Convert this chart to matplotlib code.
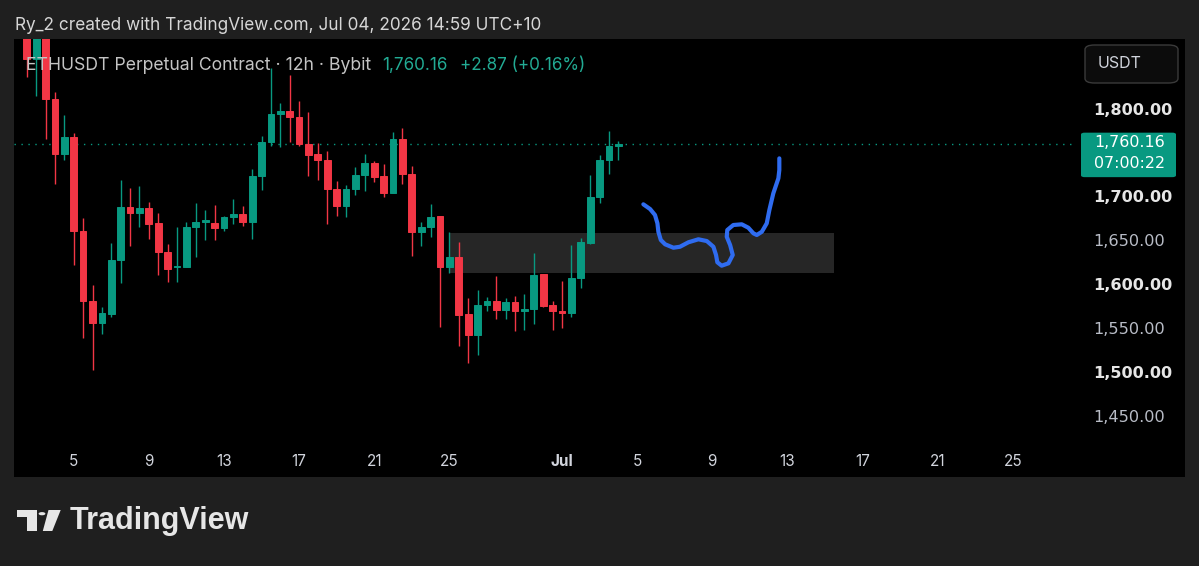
import matplotlib
matplotlib.use("Agg")
import matplotlib.pyplot as plt
from matplotlib.patches import Rectangle, FancyBboxPatch, Polygon, Circle
import numpy as np

# ---------------- data ----------------
candle_open = [1890, 1857, 1885, 1811, 1748, 1768, 1660, 1581, 1556, 1566,
               1627, 1688, 1681, 1687, 1670, 1637, 1619, 1620, 1665, 1671,
               1670, 1664, 1677, 1680, 1671, 1723, 1762, 1794, 1797, 1790,
               1760, 1748, 1741, 1708, 1689, 1709, 1724, 1738, 1723, 1704,
               1765, 1725, 1659, 1665, 1678, 1620, 1631, 1566, 1542, 1576,
               1581, 1570, 1580, 1569, 1572, 1611, 1576, 1569, 1567, 1607,
               1647, 1699, 1741, 1757.29]
candle_high = [1905, 1900, 1900, 1819, 1793, 1772, 1675, 1599, 1574, 1647,
               1719, 1710, 1712, 1694, 1681, 1646, 1665, 1671, 1692, 1684,
               1690, 1678, 1697, 1689, 1731, 1769, 1847, 1807, 1838, 1809,
               1796, 1761, 1752, 1718, 1713, 1733, 1748, 1740, 1737, 1774,
               1778, 1735, 1671, 1691, 1678, 1659, 1648, 1584, 1593, 1585,
               1609, 1584, 1587, 1589, 1636, 1612, 1581, 1603, 1645, 1653,
               1724, 1747, 1775, 1763.5]
candle_low = [1836, 1815, 1766, 1714, 1742, 1622, 1538, 1502, 1543, 1562,
              1601, 1643, 1665, 1652, 1610, 1602, 1602, 1619, 1631, 1650,
              1650, 1660, 1669, 1666, 1652, 1707, 1758, 1756, 1762, 1757,
              1723, 1719, 1669, 1678, 1677, 1702, 1706, 1716, 1699, 1704,
              1714, 1632, 1643, 1654, 1551, 1613, 1529, 1510, 1519, 1569,
              1560, 1560, 1546, 1548, 1555, 1574, 1548, 1550, 1563, 1595,
              1646, 1693, 1725, 1742]
candle_close = [1857, 1885, 1811, 1748, 1768, 1660, 1581, 1556, 1567, 1627,
                1688, 1681, 1687, 1669, 1637, 1617, 1621, 1665, 1671, 1673,
                1664, 1676, 1680, 1671, 1723, 1762, 1794, 1797, 1790, 1760,
                1747, 1741, 1708, 1689, 1709, 1724, 1738, 1722, 1704, 1765,
                1725, 1659, 1665, 1677, 1620, 1631, 1565, 1542, 1576, 1581,
                1570, 1580, 1569, 1572, 1610, 1575, 1569, 1567, 1607, 1648,
                1699, 1741, 1757.29, 1760.16]
first_candle_day = 1.5      # days after Jun 1 (12h candles)
candle_step_days = 0.5

tick_days = [4, 8, 12, 16, 20, 24, 30, 34, 38, 42, 46, 50, 54]
tick_labels = ["5", "9", "13", "17", "21", "25", "Jul", "5", "9", "13", "17", "21", "25"]

price_ticks = [1450, 1500, 1550, 1600, 1650, 1700, 1800]
major_price_ticks = [1500, 1600, 1700, 1800]

zone_days = [24.0, 44.5]
zone_prices = [1613, 1658]

sketch_days = [34.33, 34.69, 34.95, 35.08, 35.13, 35.26, 35.49, 35.93, 36.28, 36.73,
               37.26, 37.71, 38.06, 38.20, 38.27, 38.50, 38.86, 39.09, 38.95, 38.77,
               38.80, 39.12, 39.57, 39.92, 40.19, 40.37, 40.64, 40.90, 41.04, 41.25,
               41.52, 41.57, 41.57]
sketch_prices = [1691.0, 1685.6, 1678.8, 1669.3, 1659.7, 1650.3, 1645.4, 1641.5, 1642.6, 1647.7,
                 1651.1, 1649.1, 1642.6, 1633.2, 1624.9, 1621.0, 1623.7, 1633.2, 1644.6, 1654.0,
                 1661.7, 1667.4, 1668.2, 1664.3, 1657.9, 1656.0, 1659.7, 1669.3, 1684.5, 1703.5,
                 1720.6, 1730.1, 1743.4]

last_change = 2.87
last_change_pct = 0.16
countdown = "07:00:22"
header = "Ry_2 created with TradingView.com, Jul 04, 2026 14:59 UTC+10"
symbol_text = "ETHUSDT Perpetual Contract \u00b7 12h \u00b7 Bybit"
currency = "USDT"

# ---------------- style ----------------
W, H = 1199, 566
BG = "#1f1f1f"
UP = "#089981"
DOWN = "#f23645"
TXT = "#d1d4dc"
FONT = ["Inter", "DejaVu Sans"]
NUMFONT = ["DejaVu Sans"]

def fx(x):
    return x / W

def fy(y):
    return 1 - y / H

fig = plt.figure(figsize=(W / 100, H / 100), dpi=100, facecolor=BG)

# black chart panel
fig.add_artist(Rectangle((fx(14), fy(477)), fx(1185) - fx(14), fy(39) - fy(477),
                         transform=fig.transFigure, facecolor="black", edgecolor="none", zorder=-5))

ax = fig.add_axes([fx(14), fy(446), fx(1077) - fx(14), fy(39) - fy(446)])
ax.set_facecolor("black")
for s in ax.spines.values():
    s.set_visible(False)
ax.set_xlim(0.82, 57.42)
ax.set_ylim(1415.4, 1879.5)

days = first_candle_day + candle_step_days * np.arange(len(candle_open))
body_w = 0.36
for d, o, h, l, c in zip(days, candle_open, candle_high, candle_low, candle_close):
    col = UP if c >= o else DOWN
    ax.vlines(d, l, h, color=col, linewidth=1.0, zorder=3)
    ax.add_patch(Rectangle((d - body_w / 2, min(o, c)), body_w, abs(c - o),
                           facecolor=col, edgecolor=col, linewidth=0.7, zorder=4))

# gray zone
ax.add_patch(Rectangle((zone_days[0], zone_prices[0]), zone_days[1] - zone_days[0],
                       zone_prices[1] - zone_prices[0], facecolor="#262626",
                       edgecolor="none", zorder=1))

# hand drawn sketch
ax.plot(sketch_days, sketch_prices, color="#2f6cf0", linewidth=3.0,
        solid_capstyle="round", solid_joinstyle="round", zorder=6)

last = candle_close[-1]
ax.axhline(last, color=UP, linestyle=(0, (1, 4)), linewidth=1.0, zorder=2)

# x ticks
ax.set_xticks(tick_days)
ax.set_xticklabels(tick_labels, fontfamily=FONT, fontsize=11, color=TXT)
ax.tick_params(axis="x", length=0, pad=5.5)
for lbl in ax.get_xticklabels():
    if lbl.get_text() == "Jul":
        lbl.set_fontweight("bold")

# y ticks (right)
ax.yaxis.tick_right()
ax.set_yticks(price_ticks)
ax.set_yticklabels([f"{v:,.2f}" for v in price_ticks], fontfamily=NUMFONT, fontsize=11.6)
ax.tick_params(axis="y", length=0, pad=11.5)
for lbl, v in zip(ax.get_yticklabels(), price_ticks):
    if v in major_price_ticks:
        lbl.set_fontweight("bold")
        lbl.set_color("#e6e6e6")
    else:
        lbl.set_color("#b8bcc6")

# current price box
y_disp = ax.transData.transform((0, last))[1]
y_px = H - y_disp
fig.add_artist(FancyBboxPatch((fx(1081), fy(y_px + 33.5)), fx(1176) - fx(1081), (44.5) / H,
                              boxstyle="round,pad=0,rounding_size=0.003",
                              transform=fig.transFigure, facecolor=UP, edgecolor="none", zorder=5))
fig.text(fx(1094), fy(y_px - 1), f"{last:,.2f}", fontfamily=NUMFONT, fontsize=11.4,
         color="white", va="center", ha="left", zorder=6)
fig.text(fx(1094), fy(y_px + 20), countdown, fontfamily=NUMFONT, fontsize=11.4,
         color="white", va="center", ha="left", zorder=6)

# USDT box
fig.add_artist(FancyBboxPatch((fx(1085), fy(83)), fx(1178) - fx(1085), 38 / H,
                              boxstyle="round,pad=0,rounding_size=0.008",
                              transform=fig.transFigure, facecolor="#0c0c0c",
                              edgecolor="#3a3a3a", linewidth=1.0, zorder=5))
fig.text(fx(1098), fy(64), currency, fontfamily=FONT, fontsize=11.5, color=TXT,
         va="center", ha="left", zorder=6)

# header & legend
fig.text(fx(15), fy(26), header, fontfamily=FONT, fontsize=12.4, color="#d6d6d6",
         va="center", ha="left")
fig.text(fx(26), fy(66), symbol_text, fontfamily=FONT, fontsize=12.7, color="#c4c4c4",
         va="center", ha="left", zorder=10)
fig.text(fx(382), fy(66), f"{last:,.2f}", fontfamily=FONT, fontsize=12.3, color="#22ab94",
         va="center", ha="left", zorder=10)
fig.text(fx(460), fy(66), f"+{last_change:.2f} (+{last_change_pct:.2f}%)", fontfamily=FONT,
         fontsize=12.3, color="#22ab94", va="center", ha="left", zorder=10)

# TradingView logo
LOGO = "#e6e6e6"
fig.add_artist(Polygon([(fx(17.3), fy(510)), (fx(36.7), fy(510)), (fx(36.7), fy(531)),
                        (fx(26.5), fy(531)), (fx(26.5), fy(516.7)), (fx(17.3), fy(516.7))],
                       closed=True, transform=fig.transFigure, facecolor=LOGO, edgecolor="none"))
fig.add_artist(Polygon([(fx(48.5), fy(510)), (fx(60.7), fy(510)), (fx(52.3), fy(531)),
                        (fx(42.8), fy(531))],
                       closed=True, transform=fig.transFigure, facecolor=LOGO, edgecolor="none"))
fig.add_artist(Circle((fx(42.0), fy(513.7)), 3.4 / W, transform=fig.transFigure,
                      facecolor=LOGO, edgecolor="none"))
fig.text(fx(70), fy(521), "TradingView", fontfamily=["Liberation Sans", "DejaVu Sans"],
         fontweight="bold", fontsize=22, color=LOGO, va="center", ha="left")

fig.savefig("out.png", dpi=100, facecolor=BG)
